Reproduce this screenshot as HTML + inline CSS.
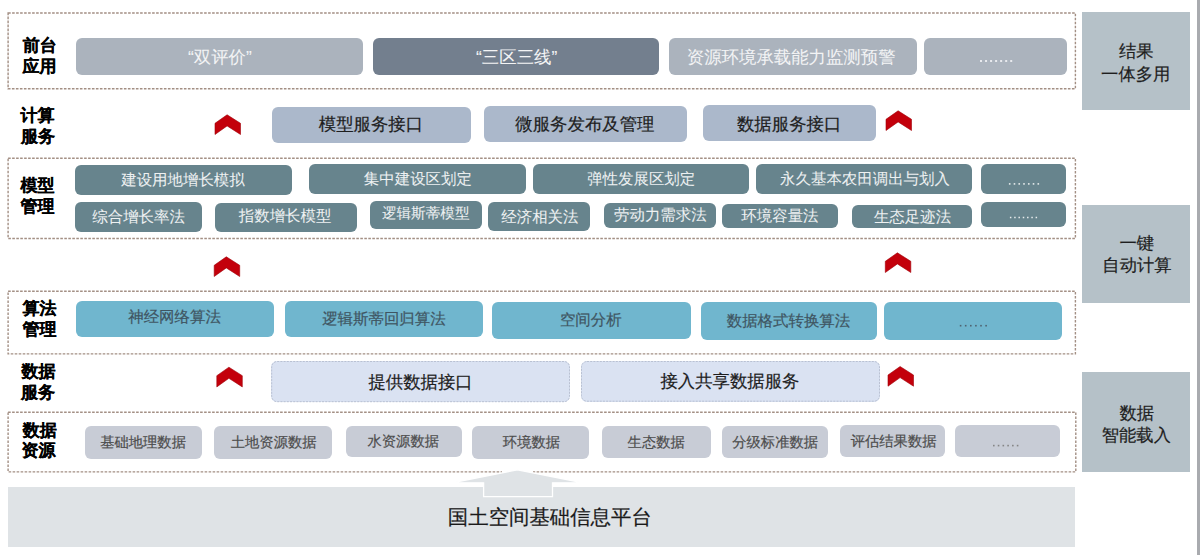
<!DOCTYPE html><html><head><meta charset="utf-8"><style>
html,body{margin:0;padding:0;background:#fff;width:1200px;height:555px;overflow:hidden;position:relative}
*{box-sizing:border-box}
.b{position:absolute;border-radius:6px}
.t{position:absolute;white-space:nowrap;font-family:"Liberation Sans",sans-serif;line-height:1;text-rendering:geometricPrecision}
svg{position:absolute;left:0;top:0}
</style></head><body>
<div style="position:absolute;left:1197px;top:0;width:3px;height:555px;background:#a9abaf"></div>
<div style="position:absolute;left:1082px;top:12.4px;width:108px;height:97.6px;background:#b5c1c8"></div>
<div style="position:absolute;left:1082px;top:204.5px;width:108px;height:98.39999999999998px;background:#b5c1c8"></div>
<div style="position:absolute;left:1082px;top:371.6px;width:108px;height:100.79999999999995px;background:#b5c1c8"></div>
<div style="position:absolute;left:8px;top:486.8px;width:1067px;height:60.2px;background:#dfe3e6"></div>
<div class="b" style="left:76px;top:38px;width:287.0px;height:37.0px;background:#abb3bd;"></div>
<div class="b" style="left:373px;top:37.5px;width:286.0px;height:37.2px;background:#737f8e;"></div>
<div class="b" style="left:669px;top:38.3px;width:248.0px;height:36.4px;background:#abb3bd;"></div>
<div class="b" style="left:924px;top:37.7px;width:143.0px;height:36.9px;background:#abb3bd;"></div>
<div class="b" style="left:272px;top:106.5px;width:199.0px;height:36.0px;background:#abb8cb;"></div>
<div class="b" style="left:484px;top:106px;width:203.0px;height:35.5px;background:#abb8cb;"></div>
<div class="b" style="left:703px;top:105px;width:173.0px;height:36.0px;background:#abb8cb;"></div>
<div class="b" style="left:75px;top:165px;width:216.5px;height:29.5px;background:#67848d;"></div>
<div class="b" style="left:309px;top:164px;width:216.5px;height:29.6px;background:#67848d;"></div>
<div class="b" style="left:532.5px;top:164px;width:216.5px;height:29.6px;background:#67848d;"></div>
<div class="b" style="left:755.5px;top:164px;width:216.9px;height:30.4px;background:#67848d;"></div>
<div class="b" style="left:981.4px;top:164.4px;width:85.1px;height:29.5px;background:#67848d;"></div>
<div class="b" style="left:75px;top:202px;width:127.0px;height:30.4px;background:#67848d;"></div>
<div class="b" style="left:215px;top:203px;width:142.0px;height:29.0px;background:#67848d;"></div>
<div class="b" style="left:370px;top:201px;width:112.0px;height:28.4px;background:#67848d;"></div>
<div class="b" style="left:488.4px;top:202px;width:101.6px;height:29.0px;background:#67848d;"></div>
<div class="b" style="left:603.6px;top:203px;width:112.8px;height:25.4px;background:#67848d;"></div>
<div class="b" style="left:722.4px;top:204px;width:116.0px;height:24.0px;background:#67848d;"></div>
<div class="b" style="left:852px;top:205px;width:120.4px;height:23.3px;background:#67848d;"></div>
<div class="b" style="left:981.4px;top:202px;width:85.1px;height:25.2px;background:#67848d;"></div>
<div class="b" style="left:76px;top:300.5px;width:198.0px;height:36.5px;background:#70b6ce;"></div>
<div class="b" style="left:285px;top:300.5px;width:198.0px;height:36.5px;background:#70b6ce;"></div>
<div class="b" style="left:492px;top:302px;width:198.7px;height:37.4px;background:#70b6ce;"></div>
<div class="b" style="left:700.5px;top:302px;width:176.8px;height:37.5px;background:#70b6ce;"></div>
<div class="b" style="left:884.4px;top:301.7px;width:177.3px;height:37.9px;background:#70b6ce;"></div>
<div class="b" style="left:271.2px;top:361px;width:298.8px;height:41.2px;background:#dae2f2;"></div>
<div class="b" style="left:581px;top:361px;width:299.0px;height:40.7px;background:#dae2f2;"></div>
<div class="b" style="left:84.5px;top:425.5px;width:117.5px;height:33.0px;background:#c8ccd6;"></div>
<div class="b" style="left:214.3px;top:425.5px;width:118.2px;height:33.2px;background:#c8ccd6;"></div>
<div class="b" style="left:345.5px;top:426.3px;width:116.3px;height:30.5px;background:#c8ccd6;"></div>
<div class="b" style="left:472px;top:426px;width:117.3px;height:32.5px;background:#c8ccd6;"></div>
<div class="b" style="left:602px;top:426.4px;width:109.0px;height:32.1px;background:#c8ccd6;"></div>
<div class="b" style="left:722.3px;top:425.8px;width:105.3px;height:32.7px;background:#c8ccd6;"></div>
<div class="b" style="left:840.4px;top:424.5px;width:105.1px;height:32.9px;background:#c8ccd6;"></div>
<div class="b" style="left:955px;top:424.5px;width:104.8px;height:32.1px;background:#c8ccd6;"></div>
<svg width="1200" height="555" viewBox="0 0 1200 555"><rect x="8.1" y="13" width="1067.3" height="75.8" fill="none" stroke="#a38f84" stroke-width="1.4" stroke-dasharray="2.6 1.4"/><rect x="8.1" y="158.3" width="1067.3" height="80.2" fill="none" stroke="#a38f84" stroke-width="1.4" stroke-dasharray="2.6 1.4"/><rect x="8.1" y="291.3" width="1067.3" height="62.6" fill="none" stroke="#a38f84" stroke-width="1.4" stroke-dasharray="2.6 1.4"/><rect x="8.1" y="412.2" width="1067.7" height="59.7" fill="none" stroke="#a38f84" stroke-width="1.4" stroke-dasharray="2.6 1.4"/><rect x="271.7" y="361.5" width="297.8" height="40.2" rx="5.5" fill="none" stroke="#b9c1d2" stroke-width="1" stroke-dasharray="2 1.2"/><rect x="581.5" y="361.5" width="298.0" height="39.7" rx="5.5" fill="none" stroke="#b9c1d2" stroke-width="1" stroke-dasharray="2 1.2"/><path d="M227.1,114.8 L240.5,123.3 L240.5,134.5 L227.1,125.9 L215.0,134.5 L215.0,123.3 Z" fill="#c3000b" stroke="#a00008" stroke-width="0.6" stroke-linejoin="miter"/><path d="M898.1,110.8 L911.5,119.3 L911.5,130.5 L898.1,121.9 L886.0,130.5 L886.0,119.3 Z" fill="#c3000b" stroke="#a00008" stroke-width="0.6" stroke-linejoin="miter"/><path d="M226.3,256.8 L239.7,265.3 L239.7,276.5 L226.3,267.9 L214.2,276.5 L214.2,265.3 Z" fill="#c3000b" stroke="#a00008" stroke-width="0.6" stroke-linejoin="miter"/><path d="M897.4,252.8 L910.8,261.3 L910.8,272.5 L897.4,263.9 L885.3,272.5 L885.3,261.3 Z" fill="#c3000b" stroke="#a00008" stroke-width="0.6" stroke-linejoin="miter"/><path d="M228.9,367.2 L242.3,375.7 L242.3,386.9 L228.9,378.3 L216.8,386.9 L216.8,375.7 Z" fill="#c3000b" stroke="#a00008" stroke-width="0.6" stroke-linejoin="miter"/><path d="M900.1,366.5 L913.5,375.0 L913.5,386.2 L900.1,377.6 L888.0,386.2 L888.0,375.0 Z" fill="#c3000b" stroke="#a00008" stroke-width="0.6" stroke-linejoin="miter"/><rect x="980.00" y="60.00" width="2.0" height="2.0" fill="#e8eaee"/><rect x="985.03" y="60.00" width="2.0" height="2.0" fill="#e8eaee"/><rect x="990.07" y="60.00" width="2.0" height="2.0" fill="#e8eaee"/><rect x="995.10" y="60.00" width="2.0" height="2.0" fill="#e8eaee"/><rect x="1000.13" y="60.00" width="2.0" height="2.0" fill="#e8eaee"/><rect x="1005.17" y="60.00" width="2.0" height="2.0" fill="#e8eaee"/><rect x="1010.20" y="60.00" width="2.0" height="2.0" fill="#e8eaee"/><rect x="1008.90" y="183.10" width="1.6" height="1.6" fill="#e6ebec"/><rect x="1013.67" y="183.10" width="1.6" height="1.6" fill="#e6ebec"/><rect x="1018.43" y="183.10" width="1.6" height="1.6" fill="#e6ebec"/><rect x="1023.20" y="183.10" width="1.6" height="1.6" fill="#e6ebec"/><rect x="1027.97" y="183.10" width="1.6" height="1.6" fill="#e6ebec"/><rect x="1032.73" y="183.10" width="1.6" height="1.6" fill="#e6ebec"/><rect x="1037.50" y="183.10" width="1.6" height="1.6" fill="#e6ebec"/><rect x="1009.90" y="216.75" width="1.5" height="1.5" fill="#e6ebec"/><rect x="1014.18" y="216.75" width="1.5" height="1.5" fill="#e6ebec"/><rect x="1018.47" y="216.75" width="1.5" height="1.5" fill="#e6ebec"/><rect x="1022.75" y="216.75" width="1.5" height="1.5" fill="#e6ebec"/><rect x="1027.03" y="216.75" width="1.5" height="1.5" fill="#e6ebec"/><rect x="1031.32" y="216.75" width="1.5" height="1.5" fill="#e6ebec"/><rect x="1035.60" y="216.75" width="1.5" height="1.5" fill="#e6ebec"/><rect x="959.80" y="324.90" width="1.6" height="1.6" fill="#4f6370"/><rect x="964.90" y="324.90" width="1.6" height="1.6" fill="#4f6370"/><rect x="970.00" y="324.90" width="1.6" height="1.6" fill="#4f6370"/><rect x="975.10" y="324.90" width="1.6" height="1.6" fill="#4f6370"/><rect x="980.20" y="324.90" width="1.6" height="1.6" fill="#4f6370"/><rect x="985.30" y="324.90" width="1.6" height="1.6" fill="#4f6370"/><rect x="993.00" y="444.80" width="1.6" height="1.6" fill="#858585"/><rect x="997.76" y="444.80" width="1.6" height="1.6" fill="#858585"/><rect x="1002.52" y="444.80" width="1.6" height="1.6" fill="#858585"/><rect x="1007.28" y="444.80" width="1.6" height="1.6" fill="#858585"/><rect x="1012.04" y="444.80" width="1.6" height="1.6" fill="#858585"/><rect x="1016.80" y="444.80" width="1.6" height="1.6" fill="#858585"/><rect x="502" y="470" width="31" height="3.5" fill="#fff"/><path d="M517.5,469.8 L583,482.8 L552.5,482.8 L552.5,496.6 L483.6,496.6 L483.6,482.8 L452,482.8 Z" fill="#dfe3e6" stroke="#fff" stroke-width="1.3" stroke-linejoin="miter"/></svg>
<div class="t" style="left:22.64px;top:36.52px;font-size:17.0px;color:#000;font-weight:700;-webkit-text-stroke:0.15px #000">前台</div>
<div class="t" style="left:22.57px;top:58.15px;font-size:17.0px;color:#000;font-weight:700;-webkit-text-stroke:0.15px #000">应用</div>
<div class="t" style="left:20.62px;top:106.76px;font-size:17.0px;color:#000;font-weight:700;-webkit-text-stroke:0.15px #000">计算</div>
<div class="t" style="left:20.94px;top:127.67px;font-size:17.0px;color:#000;font-weight:700;-webkit-text-stroke:0.15px #000">服务</div>
<div class="t" style="left:20.57px;top:177.21px;font-size:17.0px;color:#000;font-weight:700;-webkit-text-stroke:0.15px #000">模型</div>
<div class="t" style="left:20.40px;top:198.09px;font-size:17.0px;color:#000;font-weight:700;-webkit-text-stroke:0.15px #000">管理</div>
<div class="t" style="left:22.44px;top:300.41px;font-size:17.0px;color:#000;font-weight:700;-webkit-text-stroke:0.15px #000">算法</div>
<div class="t" style="left:22.44px;top:321.10px;font-size:17.0px;color:#000;font-weight:700;-webkit-text-stroke:0.15px #000">管理</div>
<div class="t" style="left:21.48px;top:363.06px;font-size:17.0px;color:#000;font-weight:700;-webkit-text-stroke:0.15px #000">数据</div>
<div class="t" style="left:21.08px;top:384.00px;font-size:17.0px;color:#000;font-weight:700;-webkit-text-stroke:0.15px #000">服务</div>
<div class="t" style="left:22.70px;top:421.73px;font-size:17.0px;color:#000;font-weight:700;-webkit-text-stroke:0.15px #000">数据</div>
<div class="t" style="left:21.62px;top:442.23px;font-size:17.0px;color:#000;font-weight:700;-webkit-text-stroke:0.15px #000">资源</div>
<div class="t" style="left:188.02px;top:49.28px;font-size:17.4px;color:#f3f4f5;font-weight:400;-webkit-text-stroke:0.05px #f3f4f5">“双评价”</div>
<div class="t" style="left:476.09px;top:49.27px;font-size:17.4px;color:#f3f4f5;font-weight:400;-webkit-text-stroke:0.05px #f3f4f5">“三区三线”</div>
<div class="t" style="left:686.84px;top:49.01px;font-size:17.4px;color:#f3f4f5;font-weight:400;-webkit-text-stroke:0.05px #f3f4f5">资源环境承载能力监测预警</div>
<div class="t" style="left:318.78px;top:115.66px;font-size:17.4px;color:#1e1e1e;font-weight:400;-webkit-text-stroke:0.2px #1e1e1e">模型服务接口</div>
<div class="t" style="left:515.34px;top:116.42px;font-size:17.4px;color:#1e1e1e;font-weight:400;-webkit-text-stroke:0.2px #1e1e1e">微服务发布及管理</div>
<div class="t" style="left:736.97px;top:116.06px;font-size:17.4px;color:#1e1e1e;font-weight:400;-webkit-text-stroke:0.2px #1e1e1e">数据服务接口</div>
<div class="t" style="left:121.24px;top:172.73px;font-size:15.45px;color:#eef1f2;font-weight:400;-webkit-text-stroke:0.05px #eef1f2">建设用地增长模拟</div>
<div class="t" style="left:363.85px;top:171.63px;font-size:15.45px;color:#eef1f2;font-weight:400;-webkit-text-stroke:0.05px #eef1f2">集中建设区划定</div>
<div class="t" style="left:587.13px;top:171.63px;font-size:15.45px;color:#eef1f2;font-weight:400;-webkit-text-stroke:0.05px #eef1f2">弹性发展区划定</div>
<div class="t" style="left:780.08px;top:171.63px;font-size:15.45px;color:#eef1f2;font-weight:400;-webkit-text-stroke:0.05px #eef1f2">永久基本农田调出与划入</div>
<div class="t" style="left:92.28px;top:210.27px;font-size:15.45px;color:#eef1f2;font-weight:400;-webkit-text-stroke:0.05px #eef1f2">综合增长率法</div>
<div class="t" style="left:238.78px;top:209.47px;font-size:15.45px;color:#eef1f2;font-weight:400;-webkit-text-stroke:0.05px #eef1f2">指数增长模型</div>
<div class="t" style="left:381.91px;top:206.65px;font-size:14.6px;color:#eef1f2;font-weight:400;-webkit-text-stroke:0.05px #eef1f2">逻辑斯蒂模型</div>
<div class="t" style="left:501.25px;top:209.55px;font-size:15.45px;color:#eef1f2;font-weight:400;-webkit-text-stroke:0.05px #eef1f2">经济相关法</div>
<div class="t" style="left:614.05px;top:208.11px;font-size:15.45px;color:#eef1f2;font-weight:400;-webkit-text-stroke:0.05px #eef1f2">劳动力需求法</div>
<div class="t" style="left:741.36px;top:209.06px;font-size:15.45px;color:#eef1f2;font-weight:400;-webkit-text-stroke:0.05px #eef1f2">环境容量法</div>
<div class="t" style="left:873.88px;top:209.63px;font-size:15.45px;color:#eef1f2;font-weight:400;-webkit-text-stroke:0.05px #eef1f2">生态足迹法</div>
<div class="t" style="left:128.20px;top:310.37px;font-size:15.45px;color:#3f5562;font-weight:400;-webkit-text-stroke:0.2px #3f5562">神经网络算法</div>
<div class="t" style="left:322.18px;top:312.19px;font-size:15.45px;color:#3f5562;font-weight:400;-webkit-text-stroke:0.2px #3f5562">逻辑斯蒂回归算法</div>
<div class="t" style="left:559.91px;top:312.91px;font-size:15.45px;color:#3f5562;font-weight:400;-webkit-text-stroke:0.2px #3f5562">空间分析</div>
<div class="t" style="left:726.70px;top:314.20px;font-size:15.45px;color:#3f5562;font-weight:400;-webkit-text-stroke:0.2px #3f5562">数据格式转换算法</div>
<div class="t" style="left:368.42px;top:374.37px;font-size:17.4px;color:#1e1e1e;font-weight:400;-webkit-text-stroke:0.2px #1e1e1e">提供数据接口</div>
<div class="t" style="left:660.39px;top:373.37px;font-size:17.4px;color:#1e1e1e;font-weight:400;-webkit-text-stroke:0.2px #1e1e1e">接入共享数据服务</div>
<div class="t" style="left:100.17px;top:435.65px;font-size:14.3px;color:#4d4d4d;font-weight:400;-webkit-text-stroke:0.2px #4d4d4d">基础地理数据</div>
<div class="t" style="left:230.74px;top:436.19px;font-size:14.3px;color:#4d4d4d;font-weight:400;-webkit-text-stroke:0.2px #4d4d4d">土地资源数据</div>
<div class="t" style="left:367.53px;top:435.11px;font-size:14.3px;color:#4d4d4d;font-weight:400;-webkit-text-stroke:0.2px #4d4d4d">水资源数据</div>
<div class="t" style="left:502.83px;top:435.86px;font-size:14.3px;color:#4d4d4d;font-weight:400;-webkit-text-stroke:0.2px #4d4d4d">环境数据</div>
<div class="t" style="left:627.61px;top:436.26px;font-size:14.3px;color:#4d4d4d;font-weight:400;-webkit-text-stroke:0.2px #4d4d4d">生态数据</div>
<div class="t" style="left:732.24px;top:435.79px;font-size:14.3px;color:#4d4d4d;font-weight:400;-webkit-text-stroke:0.2px #4d4d4d">分级标准数据</div>
<div class="t" style="left:850.71px;top:435.19px;font-size:14.3px;color:#4d4d4d;font-weight:400;-webkit-text-stroke:0.2px #4d4d4d">评估结果数据</div>
<div class="t" style="left:447.86px;top:507.68px;font-size:20.4px;color:#1a1a1a;font-weight:400;-webkit-text-stroke:0.2px #1a1a1a">国土空间基础信息平台</div>
<div class="t" style="left:1119.00px;top:42.52px;font-size:17.3px;color:#1e1e1e;font-weight:400;-webkit-text-stroke:0.2px #1e1e1e">结果</div>
<div class="t" style="left:1101.10px;top:65.88px;font-size:17.3px;color:#1e1e1e;font-weight:400;-webkit-text-stroke:0.2px #1e1e1e">一体多用</div>
<div class="t" style="left:1119.56px;top:235.43px;font-size:17.3px;color:#1e1e1e;font-weight:400;-webkit-text-stroke:0.2px #1e1e1e">一键</div>
<div class="t" style="left:1102.35px;top:257.34px;font-size:17.3px;color:#1e1e1e;font-weight:400;-webkit-text-stroke:0.2px #1e1e1e">自动计算</div>
<div class="t" style="left:1119.56px;top:405.07px;font-size:17.3px;color:#1e1e1e;font-weight:400;-webkit-text-stroke:0.2px #1e1e1e">数据</div>
<div class="t" style="left:1101.81px;top:427.24px;font-size:17.3px;color:#1e1e1e;font-weight:400;-webkit-text-stroke:0.2px #1e1e1e">智能载入</div>
</body></html>
